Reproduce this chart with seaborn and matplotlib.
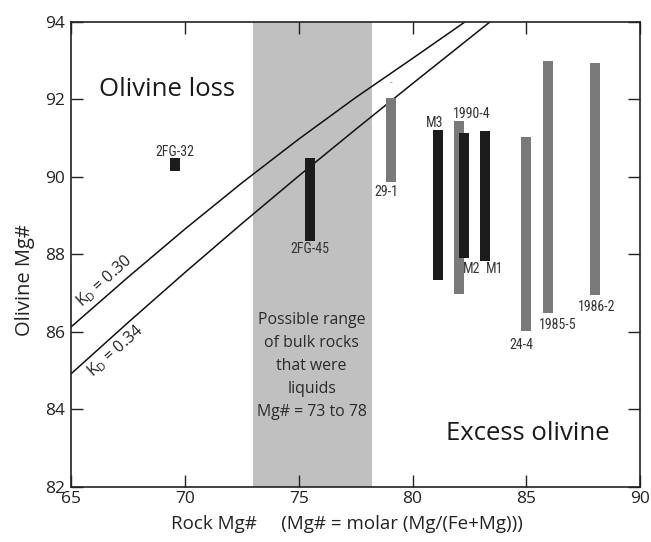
import numpy as np
import pandas as pd
import seaborn as sns
import matplotlib.pyplot as plt

# olivine ranges per sample (rock Mg#, olivine Mg# min / max)
black_names = ['2FG-32', '2FG-45', 'M3', 'M2', 'M1']
black_x = [69.55, 75.48, 81.1, 82.25, 83.18]
black_lo = [90.15, 88.36, 87.34, 87.90, 87.83]
black_hi = [90.48, 90.48, 91.21, 91.13, 91.19]

gray_names = ['29-1', '1990-4', '24-4', '1985-5', '1986-2']
gray_x = [79.04, 82.05, 85.0, 85.96, 88.01]
gray_lo = [89.88, 86.97, 86.03, 86.48, 86.95]
gray_hi = [92.05, 91.45, 91.04, 92.98, 92.95]

# Kd equilibrium lines
kd30_x = [65.0, 67.5, 70.0, 72.5, 75.0, 77.5, 80.0, 82.3]
kd30_y = [86.14, 87.42, 88.66, 89.85, 90.98, 92.05, 93.06, 94.0]
kd34_x = [65.0, 67.5, 70.0, 72.5, 75.0, 77.5, 80.0, 83.4]
kd34_y = [84.93, 86.25, 87.54, 88.80, 90.03, 91.23, 92.41, 94.0]

liquid_range = [73.0, 78.2]

# label positions (x, y) for every sample
label_names = ['2FG-32', '2FG-45', '29-1', 'M3', '1990-4', 'M2', 'M1', '24-4', '1985-5', '1986-2']
label_x = [69.55, 75.48, 78.85, 80.98, 82.59, 82.59, 83.62, 84.79, 86.4, 88.09]
label_y = [90.65, 88.14, 89.62, 91.40, 91.62, 87.62, 87.62, 85.66, 86.18, 86.65]

sns.set_theme(style='ticks')
plt.rcParams['font.family'] = ['Open Sans', 'DejaVu Sans']
plt.rcParams['mathtext.fontset'] = 'custom'
plt.rcParams['mathtext.rm'] = 'Open Sans'
plt.rcParams['mathtext.it'] = 'Open Sans'

fig = plt.figure(figsize=(6.51, 5.42), dpi=100)
ax = fig.add_axes([0.1098, 0.1015, 0.8733, 0.858])

ax.axvspan(liquid_range[0], liquid_range[1], color='#c0c0c0', lw=0, zorder=0)

lines = pd.concat([
    pd.DataFrame({'x': kd30_x, 'y': kd30_y, 'kd': '0.30'}),
    pd.DataFrame({'x': kd34_x, 'y': kd34_y, 'kd': '0.34'}),
])
sns.lineplot(data=lines, x='x', y='y', units='kd', estimator=None, color='#111111',
             lw=1.1, ax=ax, legend=False, zorder=2)

bw = 0.44
ax.bar(gray_x, np.array(gray_hi) - np.array(gray_lo), bottom=gray_lo, width=bw,
       color='#7a7a7a', lw=0, zorder=3)
ax.bar(black_x, np.array(black_hi) - np.array(black_lo), bottom=black_lo, width=bw,
       color='#1c1c1c', lw=0, zorder=4)

small = dict(family=['Liberation Sans Narrow', 'Roboto Condensed', 'DejaVu Sans'],
             fontsize=10, color='#333333', ha='center', va='center', zorder=5)
for name, lx, ly in zip(label_names, label_x, label_y):
    ax.text(lx, ly, name, **small)
ax.text(79.07, 92.43, '-', fontsize=6, color='#555555', ha='center', va='center')

ax.text(69.22, 92.25, 'Olivine loss', fontsize=18.5, color='#1a1a1a', ha='center', va='center')
ax.text(85.07, 83.39, 'Excess olivine', fontsize=18.5, color='#1a1a1a', ha='center', va='center')
ax.text(75.56, 85.12, 'Possible range\nof bulk rocks\nthat were\nliquids\nMg# = 73 to 78',
        fontsize=11.4, linespacing=1.58, color='#2a2a2a', ha='center', va='center')

ax.text(65.6, 86.55, r'K$_D$ = 0.30', fontsize=11.5, rotation=42, rotation_mode='anchor',
        ha='left', va='bottom', color='#222222')
ax.text(65.55, 85.1, r'K$_D$ = 0.34', fontsize=11.5, rotation=42, rotation_mode='anchor',
        ha='left', va='top', color='#222222')

ax.set_xlim(65, 90)
ax.set_ylim(82, 94)
ax.set_xticks(range(65, 91, 5))
ax.set_yticks(range(82, 95, 2))
ax.set_xlabel('')
ax.set_ylabel('')
ax.tick_params(direction='in', length=8.5, width=1.0, top=True, right=True,
               labelsize=12.5, colors='#222222')
ax.tick_params(axis='x', pad=3)
ax.tick_params(axis='y', pad=4.5)
for s in ax.spines.values():
    s.set_linewidth(1.2)
    s.set_color('#222222')

fig.text(0.038, 1 - 280 / 542, 'Olivine Mg#', rotation=90, fontsize=14.5,
         ha='center', va='center', color='#222222')
fig.text(346.5 / 651, 1 - 524 / 542, 'Rock Mg#     (Mg# = molar (Mg/(Fe+Mg)))', fontsize=13.5,
         ha='center', va='center', color='#222222')

fig.savefig('out.png', dpi=100)
